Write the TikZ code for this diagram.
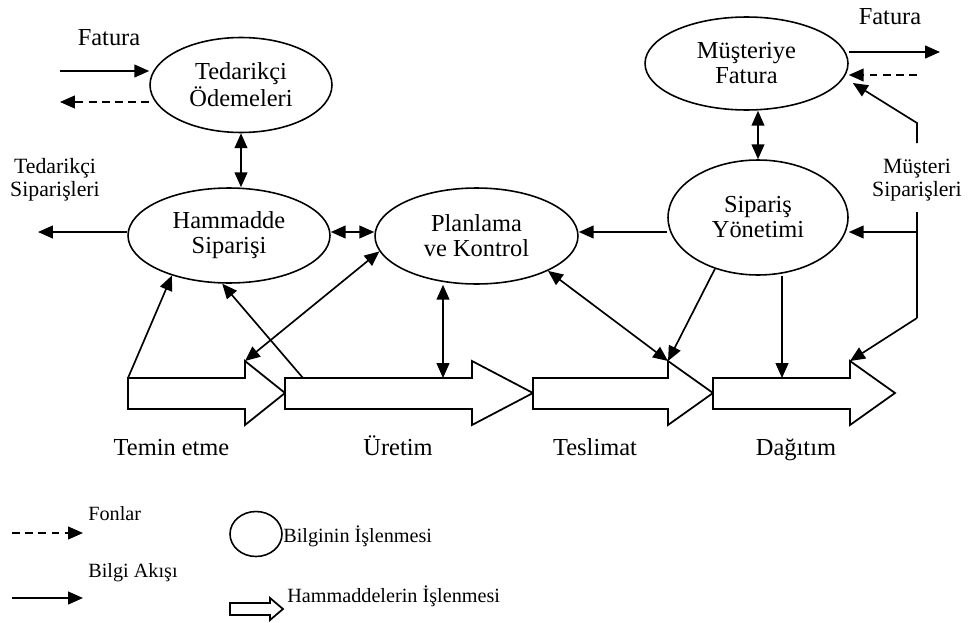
\documentclass[tikz,border=0pt]{standalone}
\usepackage{fontspec}
\setmainfont{Liberation Serif}
\usetikzlibrary{shapes.geometric,arrows.meta}
\newcommand{\mainf}{\fontsize{13.9pt}{14.2pt}\selectfont}
\newcommand{\labf}{\fontsize{12.4pt}{13pt}\selectfont}
\newcommand{\legf}{\fontsize{11.5pt}{13pt}\selectfont}
\begin{document}
\begin{tikzpicture}[x=0.02cm,y=-0.02cm,
  ell/.style={draw,ellipse,inner sep=0pt,align=center,font=\mainf,line width=0.9pt},
  arr/.style={line width=0.95pt,-{Triangle[length=8.5pt,width=7.3pt]}},
  darr/.style={line width=0.95pt,{Triangle[length=8.5pt,width=7.3pt]}-{Triangle[length=8.5pt,width=7.3pt]}},
  dasharr/.style={line width=0.9pt,dash pattern=on 4.5pt off 3pt,-{Triangle[length=8.5pt,width=7.3pt]}},
  blk/.style={draw,fill=white,line width=1pt,line join=miter},
  plab/.style={anchor=base,font=\mainf},
  leg/.style={anchor=base west,font=\legf,inner sep=0pt}]
\useasboundingbox (0,0) rectangle (970,622);

% ellipses
\node[ell,minimum width=3.64cm,minimum height=1.9cm] (tp) at (241,85) {Tedarikçi\\Ödemeleri};
\node[ell,minimum width=4.04cm,minimum height=1.9cm] (hs) at (229,235.5) {Hammadde\\Siparişi};
\node[ell,minimum width=4.06cm,minimum height=1.92cm] (pk) at (476.5,236) {Planlama\\ve Kontrol};
\node[ell,minimum width=4.06cm,minimum height=1.86cm] (mf) at (746.5,63.5) {Müşteriye\\Fatura};
\node[ell,minimum width=3.6cm,minimum height=2.3cm] (sy) at (758,217.5) {Sipariş\\Yönetimi};

% block arrows (material flow)
\draw[blk] (128,378) -- (245,378) -- (245,361) -- (285,393) -- (245,425) -- (245,409) -- (128,409) -- cycle;
\draw[blk] (285,378) -- (472,378) -- (472,361) -- (533,393) -- (472,425) -- (472,409) -- (285,409) -- cycle;
\draw[blk] (533,378) -- (668,378) -- (668,361) -- (713,393) -- (668,425) -- (668,409) -- (533,409) -- cycle;
\draw[blk] (713,378) -- (850,378) -- (850,361) -- (895,393) -- (850,425) -- (850,409) -- (713,409) -- cycle;

% attachment points
\coordinate (t1) at (128,378);
\coordinate (t2) at (245,361);
\coordinate (u1) at (303,378);
\coordinate (u2) at (443,378);
\coordinate (s1) at (668,361);
\coordinate (d1) at (782,378);
\coordinate (d2) at (850,361);
\coordinate (lh) at (0,232);
\coordinate (ts) at (38,232);
\coordinate (fi) at (60,71);
\coordinate (fdo) at (60,102);
\coordinate (fo) at (940,52);
\coordinate (fd) at (917,75);
\coordinate (m1) at (917,123);
\coordinate (m2) at (917,143);
\coordinate (m3) at (917,212);
\coordinate (m4) at (917,318);
\coordinate (mj) at (917,232);

% labels
\node[plab] (fl) at (109,45) {Fatura};
\node[plab] (fr) at (890,24) {Fatura};
\node[font=\labf,align=center,inner sep=0pt] (tsl) at (55,180) {Tedarikçi\\Siparişleri};
\node[font=\labf,align=center,inner sep=0pt] (msl) at (917,180) {Müşteri\\Siparişleri};
\node[plab] (l1) at (171.5,455) {Temin etme};
\node[plab] (l2) at (398,455) {Üretim};
\node[plab] (l3) at (595,455) {Teslimat};
\node[plab] (l4) at (796,455) {Dağıtım};

% connectors, left
\draw[arr] (fi) -- (fi -| tp.west);
\draw[dasharr] (tp.west |- fdo) -- (fdo);
\draw[darr] (tp.south) -- (tp.south |- hs.north);
\draw[arr] (hs.west |- ts) -- (ts);
\draw[darr] (hs.east |- lh) -- (pk.west |- lh);
\draw[arr] (t1) -- (hs.215);
\draw[arr] (u1) -- (hs.262);
\draw[darr] (pk.189) -- (t2);
\draw[darr] (pk.south -| u2) -- (u2);
\draw[darr] (pk.334) -- (s1);

% connectors, right
\draw[arr] (sy.west |- lh) -- (pk.east |- lh);
\draw[arr] (sy.230) -- (s1);
\draw[arr] (sy.south -| d1) -- (d1);
\draw[darr] (mf.south -| sy.north) -- (sy.north);
\draw[arr] (mf.east |- fo) -- (fo);
\draw[dasharr] (fd) -- (mf.east |- fd);
\draw[arr] (m2) -- (m1) -- ([shift={(4,19.5)}]mf.east);
\draw[line width=0.95pt] (m3) -- (m4);
\draw[arr] (m4) -- (d2);
\draw[arr] (mj) -- (sy.east |- mj);

% legend
\coordinate (lf1) at (12,533);
\coordinate (lf2) at (83,533);
\coordinate (lb1) at (12,598);
\coordinate (lb2) at (83,598);
\draw[dasharr] (lf1) -- (lf2);
\draw[arr] (lb1) -- (lb2);
\node[leg] (lt1) at (88,520) {Fonlar};
\node[leg] (lt2) at (88,577) {Bilgi Akışı};
\node[draw,ellipse,inner sep=0pt,line width=0.9pt,minimum width=1.04cm,minimum height=0.9cm] (le) at (256,534) {};
\node[leg] (lt3) at (283,542) {Bilginin İşlenmesi};
\draw[blk] (230,603) -- (270,603) -- (270,598) -- (283,609) -- (270,620) -- (270,615) -- (230,615) -- cycle;
\node[leg] (lt4) at (287,602) {Hammaddelerin İşlenmesi};
\end{tikzpicture}
\end{document}
